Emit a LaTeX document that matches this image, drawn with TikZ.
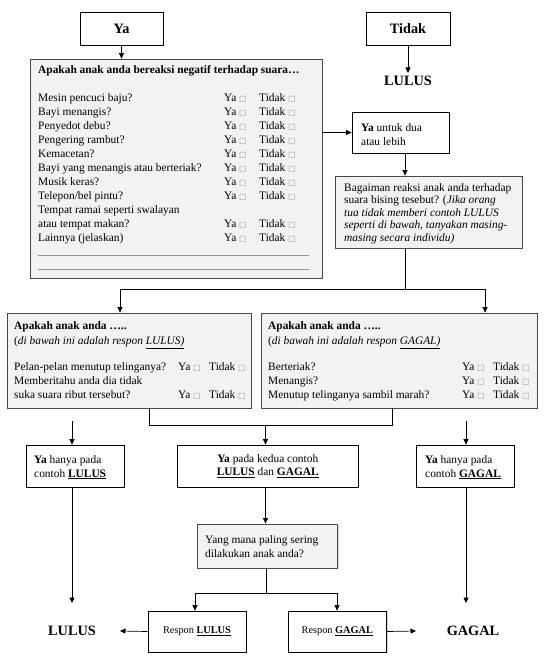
\documentclass[tikz,border=0pt]{standalone}
\usepackage{fontspec}
\setmainfont{Liberation Serif}
\newfontfamily\symfont{DejaVu Sans}
\usetikzlibrary{arrows.meta,shadows}
\definecolor{boxgray}{HTML}{F2F2F2}
\definecolor{edgegray}{HTML}{474747}
\newcommand\fs{\fontsize{11.4}{13}\selectfont}
\newcommand\fsbig{\fontsize{14.3}{16}\selectfont}
\newcommand\fssm{\fontsize{10.3}{12}\selectfont}
\newcommand\cbx{{\symfont\fontsize{8}{8}\selectfont\textcolor{gray!80}{□}}}
\begin{document}
\begin{tikzpicture}[x=1pt,y=-1pt,
  shad/.style={drop shadow={shadow xshift=1.2pt,shadow yshift=-1.2pt,opacity=0.3}},
  wbox/.style={draw=black, line width=0.8pt, fill=white, shad, inner sep=0pt},
  gbox/.style={draw=edgegray, line width=0.8pt, fill=boxgray, shad, inner sep=0pt},
  txt/.style={anchor=base west, inner sep=0pt, font=\fs},
  big/.style={inner sep=0pt, font=\fsbig\bfseries},
  conn/.style={line width=0.7pt, draw=black},
  arr/.style={conn, -{Triangle[length=5.5pt,width=5pt]}},
]
\fill[white] (0,0) rectangle (550,661);
\useasboundingbox (0,0) rectangle (550,661);

% ---------- boxes ----------
\node[wbox, minimum width=83pt, minimum height=33pt, font=\fsbig\bfseries] (ya) at (121.5,28.5) {Ya};
\node[wbox, minimum width=84pt, minimum height=33pt, font=\fsbig\bfseries] (tidak) at (408,28.5) {Tidak};
\node[big] (lulus1) at (408,81) {LULUS};
\node[gbox, minimum width=292pt, minimum height=219pt] (q) at (176,168.5) {};
\node[wbox, minimum width=97pt, minimum height=41pt] (yu) at (400.5,132.5) {};
\node[gbox, minimum width=187pt, minimum height=72pt] (bg) at (428.5,212) {};
\node[gbox, minimum width=244pt, minimum height=95pt] (L) at (129,360.5) {};
\node[gbox, minimum width=276pt, minimum height=95pt] (R) at (399,360.5) {};
\node[wbox, minimum width=98pt, minimum height=42pt] (yl) at (75,466) {};
\node[wbox, minimum width=180.5pt, minimum height=42pt, font=\fs, align=center] (ym) at (267.75,466)
  {\textbf{Ya} pada kedua contoh\\[0.5pt]\textbf{\underline{LULUS}} dan \textbf{\underline{GAGAL}}};
\node[wbox, minimum width=97.3pt, minimum height=42pt] (yr) at (465.3,466) {};
\node[gbox, minimum width=140.5pt, minimum height=44pt] (ym2) at (267.25,546) {};
\node[wbox, minimum width=98pt, minimum height=41pt, font=\fssm] (rl) at (197,631.5) {Respon \textbf{\underline{LULUS}}};
\node[wbox, minimum width=98.7pt, minimum height=41pt, font=\fssm] (rg) at (337.3,631.5) {Respon \textbf{\underline{GAGAL}}};
\node[big] (lulus2) at (72,631) {LULUS};
\node[big] (gagal) at (473,631) {GAGAL};

% ---------- texts in question box ----------
\node[txt, font=\fs\bfseries] (qt) at (38,73.5) {Apakah anak anda bereaksi negatif terhadap suara…};
\newcommand\qrow[3]{%
  \node[txt] (#1t) at (38,#2) {#3};
  \node[txt] (#1y) at (224,#2) {Ya \cbx};
  \node[txt] (#1n) at (259,#2) {Tidak \cbx};}
\qrow{qa}{101.5}{Mesin pencuci baju?}
\qrow{qb}{115.5}{Bayi menangis?}
\qrow{qc}{129.5}{Penyedot debu?}
\qrow{qd}{143.5}{Pengering rambut?}
\qrow{qe}{157.5}{Kemacetan?}
\qrow{qf}{171.5}{Bayi yang menangis atau berteriak?}
\qrow{qg}{185.5}{Musik keras?}
\qrow{qh}{199.5}{Telepon/bel pintu?}
\node[txt] (qit) at (38,213.5) {Tempat ramai seperti swalayan};
\qrow{qi}{227.5}{atau tempat makan?}
\qrow{qj}{241.5}{Lainnya (jelaskan)}
\draw[gray!85, line width=0.5pt] (38,255) -- (309,255);
\draw[gray!85, line width=0.5pt] (38,269) -- (309,269);

% ---------- Ya untuk dua ----------
\node[txt] (yu1) at (361,131.5) {\textbf{Ya} untuk dua};
\node[txt] (yu2) at (361,145) {atau lebih};

% ---------- Bagaiman ----------
\node[txt] (bg1) at (344,191) {Bagaiman reaksi anak anda terhadap};
\node[txt] (bg2) at (344,203.5) {suara bising tesebut? (\textit{Jika orang}};
\node[txt] (bg3) at (344,216) {\textit{tua tidak memberi contoh LULUS}};
\node[txt] (bg4) at (344,228.5) {\textit{seperti di bawah, tanyakan masing-}};
\node[txt] (bg5) at (344,241) {\textit{masing secara individu)}};

% ---------- left middle box ----------
\node[txt, font=\fs\bfseries] (l1) at (14,329) {Apakah anak anda …..};
\node[txt] (l2) at (14,344) {(\textit{di bawah ini adalah respon \underline{LULUS)}}};
\node[txt] (l3) at (14,370) {Pelan-pelan menutup telinganya?};
\node[txt] (l3y) at (178,370) {Ya \cbx};
\node[txt] (l3n) at (209,370) {Tidak \cbx};
\node[txt] (l4) at (14,384) {Memberitahu anda dia tidak};
\node[txt] (l5) at (14,398) {suka suara ribut tersebut?};
\node[txt] (l5y) at (178,398) {Ya \cbx};
\node[txt] (l5n) at (209,398) {Tidak \cbx};

% ---------- right middle box ----------
\node[txt, font=\fs\bfseries] (r1) at (268,329) {Apakah anak anda …..};
\node[txt] (r2) at (268,344) {(\textit{di bawah ini adalah respon \underline{GAGAL)}}};
\node[txt] (r3) at (268,370) {Berteriak?};
\node[txt] (r3y) at (462,370) {Ya \cbx};
\node[txt] (r3n) at (493,370) {Tidak \cbx};
\node[txt] (r4) at (268,384) {Menangis?};
\node[txt] (r4y) at (462,384) {Ya \cbx};
\node[txt] (r4n) at (493,384) {Tidak \cbx};
\node[txt] (r5) at (268,398) {Menutup telinganya sambil marah?};
\node[txt] (r5y) at (462,398) {Ya \cbx};
\node[txt] (r5n) at (493,398) {Tidak \cbx};

% ---------- bottom row texts ----------
\node[txt] (yl1) at (34,463.5) {\textbf{Ya} hanya pada};
\node[txt] (yl2) at (34,477) {contoh \textbf{\underline{LULUS}}};
\node[txt] (yr1) at (425,463.5) {\textbf{Ya} hanya pada};
\node[txt] (yr2) at (425,477) {contoh \textbf{\underline{GAGAL}}};
\node[txt] (ym21) at (205,543) {Yang mana paling sering};
\node[txt] (ym22) at (205,557) {dilakukan anak anda?};

% ---------- connectors ----------
\draw[arr] (ya.south) -- (ya.south |- q.north);
\draw[arr, shorten >=3pt] (tidak.south) -- (lulus1.north);
\draw[arr] (q.east |- yu.west) -- (yu.west);
\coordinate (c1) at (405,289);
\coordinate (c2) at (120,289);
\coordinate (c3) at (485,289);
\draw[arr] (yu.south -| c1) -- (bg.north -| c1);
\draw[conn] (bg.south -| c1) -- (c1);
\draw[conn] (c2) -- (c3);
\draw[arr] (c2) -- (c2 |- L.north);
\draw[arr] (c3) -- (c3 |- R.north);
\coordinate (d1) at (149,425);
\coordinate (d2) at (392,425);
\coordinate (d3) at (265.5,425);
\draw[conn] (L.south -| d1) -- (d1) -- (d2) -- (R.south -| d2);
\draw[arr] (d3) -- (d3 |- ym.north);
\coordinate (e1) at (72,421);
\coordinate (e2) at (466,421);
\draw[arr] (e1) -- (e1 |- yl.north);
\draw[arr] (e2) -- (e2 |- yr.north);
\coordinate (f1) at (72,603);
\coordinate (f2) at (466,603);
\draw[arr] (yl.south -| f1) -- (f1);
\draw[arr] (yr.south -| f2) -- (f2);
\draw[arr] (ym.south -| d3) -- (ym2.north -| d3);
\coordinate (g1) at (266,593);
\coordinate (g2) at (195,593);
\coordinate (g3) at (337,593);
\draw[conn] (ym2.south -| g1) -- (g1);
\draw[conn] (g2) -- (g3);
\draw[arr] (g2) -- (g2 |- rl.north);
\draw[arr] (g3) -- (g3 |- rg.north);
\coordinate (h1) at (120,631);
\coordinate (h2) at (416,631);
\draw[arr] (rl.west) -- (h1);
\draw[arr] (rg.east) -- (h2);
\end{tikzpicture}
\end{document}
